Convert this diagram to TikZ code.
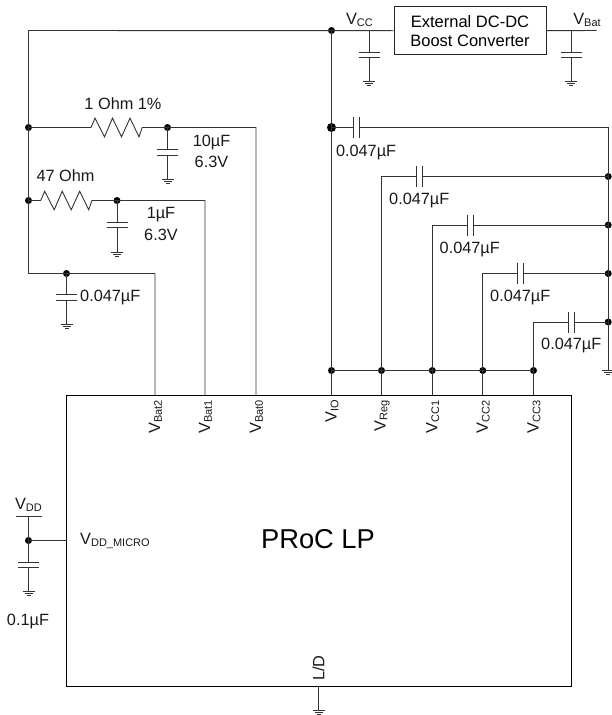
\documentclass[tikz,border=0pt]{standalone}
\usepackage{fontspec}
\setmainfont{Liberation Sans}
\newcommand{\Vs}[1]{V\raisebox{-0.2ex}{\fontsize{11}{11}\selectfont #1}}
\tikzset{
  wire/.style={line width=0.9pt,draw=black!80},
  dot/.style={circle,fill=black,inner sep=0pt,minimum size=7pt},
  bigdot/.style={circle,fill=black,inner sep=0pt,minimum size=9pt},
  lbl/.style={font=\fontsize{16.3}{19}\selectfont,inner sep=0pt,text=black!90},
  rot/.style={lbl,rotate=90,anchor=east},
  gnd/.pic={\draw[wire,line width=0.8pt] (-6,0) -- (6,0) (-4,2) -- (4,2) (-2,4) -- (2,4);},
  capv/.pic={\draw[wire,line width=1.1pt] (-10.5,-2.6) -- (10.5,-2.6) (-10.5,2.6) -- (10.5,2.6);},
  caph/.pic={\draw[wire,line width=1.1pt] (-3,-10.5) -- (-3,10.5) (3,-10.5) -- (3,10.5);}
}
\begin{document}
\begin{tikzpicture}[x=1pt,y=-1pt]
\useasboundingbox (0,0) rectangle (611,715);
% boxes
\node[draw=black!85,line width=1pt,minimum width=152pt,minimum height=48.5pt,inner sep=0pt,align=center,
  font=\fontsize{16.5}{19}\selectfont] (boost) at (470,30.7) {External DC-DC\\Boost Converter};
\node[draw=black,line width=1pt,minimum width=504.5pt,minimum height=291pt,inner sep=0pt] (chip) at (318.75,540.5) {};
\node[font=\fontsize{27.3}{30}\selectfont,inner sep=0pt] (title) at (318,539.5) {PRoC LP};
% coordinates / junctions
\coordinate (tl) at (28.5,30.5);
\node[dot] (vcc) at (331.5,30.5) {};
\coordinate (vbat) at (596.5,30.5);
\node[dot] (a1) at (28.5,127.5) {};
\node[dot] (a2) at (167.5,127.5) {};
\node[dot] (b1) at (28.5,200.5) {};
\node[dot] (b2) at (117,200.5) {};
\coordinate (c0) at (28.5,273.5);
\node[dot] (c1) at (66.5,273.5) {};
\coordinate (p0) at (256,395);
\coordinate (p1) at (205,395);
\coordinate (p2) at (155,395);
\coordinate (a3) at (256,127.5);
\coordinate (b3) at (205,200.5);
\node[bigdot] (io1) at (331.5,127.5) {};
\node[dot] (io2) at (331.5,370.5) {};
\node[dot] (reg) at (381.5,370.5) {};
\node[dot] (cc1) at (432.3,370.5) {};
\node[dot] (cc2) at (482.8,370.5) {};
\node[dot] (cc3) at (533.5,370.5) {};
\coordinate (r0) at (608.2,127.5);
\node[dot] (r1) at (608.2,176.5) {};
\node[dot] (r2) at (608.2,225) {};
\node[dot] (r3) at (608.2,273.5) {};
\node[dot] (r4) at (608.2,322) {};
\coordinate (r5) at (608.2,370.5);
\coordinate (k1) at (381.5,176.5);
\coordinate (k2) at (432.3,225);
\coordinate (k3) at (482.8,273.5);
\coordinate (k4) at (533.5,322);
\coordinate (pio) at (331.5,395);
\coordinate (preg) at (381.5,395);
\coordinate (pc1) at (432.3,395);
\coordinate (pc2) at (482.8,395);
\coordinate (pc3) at (533.5,395);
\coordinate (ld) at (318.5,686);
\coordinate (ldg) at (318.5,710);
\coordinate (vddt) at (28.5,516.5);
\node[dot] (vdd) at (28.5,540.5) {};
\coordinate (vchip) at (66.5,540.5);
% wires
\draw[wire] (p2) |- (c1.center) -- (c0) -- (tl) -- (boost.west);
\draw[wire] (boost.east) -- (vbat);
\draw[wire] (tl) -- (a1.center) -- (b1.center);
\draw[wire] (a1.center) -- ++(62.5,0) -- ++(4,-9.3) -- ++(9.5,18.6) -- ++(8,-18.6) -- ++(9,18.6) -- ++(8.5,-18.6) -- ++(9,18.6) -- ++(3.2,-9.3) -- (a2.center) -- (a3) -- (p0);
\draw[wire] (b1.center) -- ++(12.2,0) -- ++(4,-9.3) -- ++(9.5,18.6) -- ++(8,-18.6) -- ++(9,18.6) -- ++(8.5,-18.6) -- ++(9,18.6) -- ++(3.2,-9.3) -- (b2.center) -- (b3) -- (p1);
\draw[wire] (vcc.center) -- (pio);
\draw[wire] (io2.center) -- (cc3.center) -- (pc3);
\draw[wire] (reg.center) -- (preg) (cc1.center) -- (pc1) (cc2.center) -- (pc2);
\draw[wire] (reg.center) -- (k1) -- (r1.center);
\draw[wire] (cc1.center) -- (k2) -- (r2.center);
\draw[wire] (cc2.center) -- (k3) -- (r3.center);
\draw[wire] (cc3.center) -- (k4) -- (r4.center);
\draw[wire] (io1.center) -- (r0) -- (r5);
\draw[wire] (vddt) -- (vdd.center) -- (vchip);
\draw[wire] (16,516.5) -- (41.5,516.5);
\draw[wire] (ld) -- (ldg);
% horizontal caps (white gap between the plates)
\foreach \x/\y in {356.3/127.5,419.7/176.5,470.3/225,520.7/273.5,571.3/322}{
  \fill[white] (\x-3,\y-1) rectangle (\x+3,\y+1);
  \pic at (\x,\y) {caph};
}
% vertical caps with ground
\foreach \x/\yt/\yc/\yg in {369/30.5/55/81,571/30.5/55/81,167.5/127.5/152.5/179,117/200.5/225/252,66.5/273.5/297.5/324,28.5/540.5/564.8/591}{
  \draw[wire] (\x,\yt) -- (\x,\yc-2.6);
  \draw[wire] (\x,\yc+2.6) -- (\x,\yg);
  \pic at (\x,\yc) {capv};
  \pic at (\x,\yg) {gnd};
}
\pic at (608.2,370.5) {gnd};
\pic at (318.5,710) {gnd};
% labels
\node[lbl] (l1) at (123,104) {1 Ohm 1\%};
\node[lbl] (l2) at (65.5,176) {47 Ohm};
\node[lbl] (l3) at (211.5,142) {10µF};
\node[lbl] (l4) at (211.5,162) {6.3V};
\node[lbl] (l5) at (161,215) {1µF};
\node[lbl] (l6) at (161,235) {6.3V};
\node[lbl,anchor=west] (l7) at (80,297) {0.047µF};
\node[lbl,anchor=west] (l8) at (335.8,152) {0.047µF};
\node[lbl,anchor=west] (l9) at (389,200) {0.047µF};
\node[lbl,anchor=west] (l10) at (439.5,249) {0.047µF};
\node[lbl,anchor=west] (l11) at (490,297) {0.047µF};
\node[lbl,anchor=west] (l12) at (541,345.5) {0.047µF};
\node[lbl] (l13) at (28,621) {0.1µF};
\node[lbl] (vccl) at (359.5,20) {\Vs{CC}};
\node[lbl] (vbatl) at (587,20) {\Vs{Bat}};
\node[lbl] (vddl) at (28.5,505) {\Vs{DD}};
\node[lbl,anchor=west] (vmicro) at (80,541) {\Vs{DD\_MICRO}};
\node[rot] (t1) at (155.5,400) {\Vs{Bat2}};
\node[rot] (t2) at (205.5,400) {\Vs{Bat1}};
\node[rot] (t3) at (256.5,400) {\Vs{Bat0}};
\node[rot] (t4) at (332,400) {\Vs{IO}};
\node[rot] (t5) at (382,400) {\Vs{Reg}};
\node[rot] (t6) at (432.8,400) {\Vs{CC1}};
\node[rot] (t7) at (483.3,400) {\Vs{CC2}};
\node[rot] (t8) at (534,400) {\Vs{CC3}};
\node[lbl,rotate=90] (ldl) at (318.5,668) {L/D};
\end{tikzpicture}
\end{document}
